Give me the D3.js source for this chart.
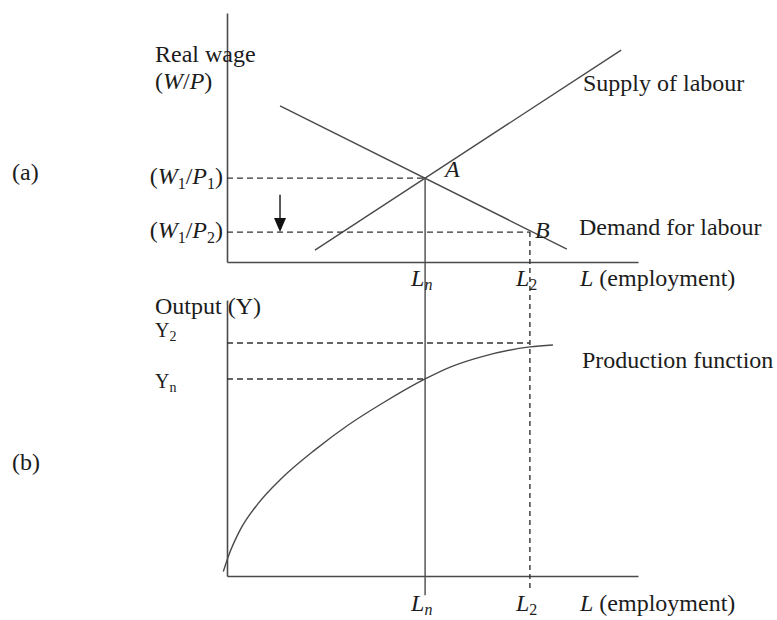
<!DOCTYPE html>
<html>
<head>
<meta charset="utf-8">
<script src="https://cdn.jsdelivr.net/npm/d3@7"></script>
<style>
  html, body { margin: 0; padding: 0; background: #fff; }
  svg text { font-family: "Liberation Serif", "Times New Roman", serif; fill: #1c1c1c; }
</style>
</head>
<body>
<svg id="chart" width="777" height="620"></svg>
<script>
// Labour market (a) and production function (b)
const employmentLevels = [48.2, 73.7];          // L_n, L_2
const employmentSubs = ["n", "2"];
const wageLevels = [33.7, 12.0];               // W1/P1, W1/P2
const wageSubs = ["1", "2"];
const supplyL = [21.4, 95.9];
const supplyW = [4.8, 85.1];
const demandL = [12.9, 82.7];
const demandW = [62.7, 5.2];
const outputL = [-0.9, 0.3, 3.2, 7.6, 13.3, 21.4, 29.5, 37.6, 48.2, 54.3, 62.3, 73.7, 79.3];
const outputY = [1.6, 7.0, 16.7, 26.3, 35.4, 45.7, 54.7, 62.4, 71.4, 75.7, 79.6, 83.0, 83.7];
const outputLevels = [71.4, 84.4];             // Y_n, Y_2
const outputSubs = ["n", "2"];

const svg = d3.select("#chart");
const lineCol = "#4a4a4a";
const fs = 24, subFs = 16;

const x = d3.scaleLinear().domain([0, 100]).range([227, 638]);
const yTop = d3.scaleLinear().domain([0, 100]).range([262, 13]);
const yBot = d3.scaleLinear().domain([0, 100]).range([576, 300]);

// axes (lines only, no ticks)
function drawAxes(yScale) {
  svg.append("g").attr("transform", `translate(0,${yScale(0)})`)
    .call(d3.axisBottom(x).tickValues([]).tickSizeOuter(0));
  svg.append("g").attr("transform", `translate(${x(0)},0)`)
    .call(d3.axisLeft(yScale).tickValues([]).tickSizeOuter(0));
}
drawAxes(yTop);
drawAxes(yBot);
svg.selectAll(".domain").attr("stroke", lineCol).attr("stroke-width", 1.6);

const line = (ys) => d3.line().x(d => x(d[0])).y(d => ys(d[1]));

// supply and demand
svg.append("path").datum(d3.zip(supplyL, supplyW))
  .attr("d", line(yTop)).attr("fill", "none").attr("stroke", lineCol).attr("stroke-width", 1.4);
svg.append("path").datum(d3.zip(demandL, demandW))
  .attr("d", line(yTop)).attr("fill", "none").attr("stroke", lineCol).attr("stroke-width", 1.4);

// production function
svg.append("path").datum(d3.zip(outputL, outputY))
  .attr("d", line(yBot).curve(d3.curveMonotoneX))
  .attr("fill", "none").attr("stroke", lineCol).attr("stroke-width", 1.4);

// dashed guides: wages
wageLevels.forEach((w, i) => {
  svg.append("line")
    .attr("x1", x(0)).attr("x2", x(employmentLevels[i]))
    .attr("y1", yTop(w)).attr("y2", yTop(w))
    .attr("stroke", "#333").attr("stroke-width", 1.4).attr("stroke-dasharray", "6,4");
});
// dashed guides: output
outputLevels.forEach((v, i) => {
  svg.append("line")
    .attr("x1", x(0)).attr("x2", x(employmentLevels[i]))
    .attr("y1", yBot(v)).attr("y2", yBot(v))
    .attr("stroke", "#333").attr("stroke-width", 1.4).attr("stroke-dasharray", "6,4");
});

// vertical from A (solid) and from B (dashed) through both panels
svg.append("line")
  .attr("x1", x(employmentLevels[0])).attr("x2", x(employmentLevels[0]))
  .attr("y1", yTop(wageLevels[0])).attr("y2", yBot(-7))
  .attr("stroke", lineCol).attr("stroke-width", 1.4);
svg.append("line")
  .attr("x1", x(employmentLevels[1])).attr("x2", x(employmentLevels[1]))
  .attr("y1", yTop(wageLevels[1])).attr("y2", yBot(-5))
  .attr("stroke", "#333").attr("stroke-width", 1.4).attr("stroke-dasharray", "5,4");

// downward arrow showing the fall in the real wage
const ax = x(12.9), ay0 = yTop(27), ay1 = yTop(wageLevels[1]);
svg.append("line").attr("x1", ax).attr("x2", ax).attr("y1", ay0).attr("y2", ay1 - 12)
  .attr("stroke", "#222").attr("stroke-width", 1.5);
svg.append("path")
  .attr("d", `M${ax - 6},${ay1 - 14} L${ax + 6},${ay1 - 14} L${ax},${ay1} Z`)
  .attr("fill", "#111");

// text helper: parts may be italic or subscript
function txt(xp, yp, parts, anchor, subDy, size, subSize) {
  const sd = subDy || 5;
  const t = svg.append("text").attr("x", xp).attr("y", yp)
    .attr("font-size", size || fs).attr("text-anchor", anchor || "start");
  let shift = 0;
  parts.forEach(p => {
    const s = t.append("tspan").text(p.t);
    if (p.i) s.attr("font-style", "italic");
    if (p.sub) {
      s.attr("font-size", subSize || subFs).attr("dy", sd - shift); shift = sd;
    } else if (shift) {
      s.attr("dy", -shift); shift = 0;
    }
  });
  return t;
}

txt(155, 62, [{t: "Real wage"}]);
txt(155, 89, [{t: "("}, {t: "W", i: 1}, {t: "/"}, {t: "P", i: 1}, {t: ")"}]);
txt(12, 180, [{t: "(a)"}]);
txt(12, 470, [{t: "(b)"}]);

wageLevels.forEach((w, i) => {
  txt(x(0) - 4, yTop(w) + 6, [{t: "("}, {t: "W", i: 1}, {t: "1", sub: 1}, {t: "/"},
    {t: "P", i: 1}, {t: wageSubs[i], sub: 1}, {t: ")"}], "end");
});

txt(x(employmentLevels[0]) + 20, yTop(wageLevels[0]) - 1, [{t: "A", i: 1}]);
txt(x(employmentLevels[1]) + 5, yTop(wageLevels[1]) + 6, [{t: "B", i: 1}]);
txt(583, 91, [{t: "Supply of labour"}]);
txt(579, 235, [{t: "Demand for labour"}]);

// employment labels under both panels
[yTop(0) + 24, yBot(0) + 35].forEach(yp => {
  employmentLevels.forEach((l, i) => {
    txt(x(l) - 14, yp, [{t: "L", i: 1}, {t: employmentSubs[i], sub: 1, i: i === 0 ? 1 : 0}], "start", 4);
  });
  txt(580, yp, [{t: "L", i: 1}, {t: " (employment)"}]);
});

txt(155, 314, [{t: "Output (Y)"}]);
outputLevels.forEach((v, i) => {
  txt(155, yBot(v) + (i === 0 ? 9 : -6), [{t: "Y"}, {t: outputSubs[i], sub: 1}], "start", 4, 20, 14);
});
txt(582, 368, [{t: "Production function"}]);
</script>
</body>
</html>
